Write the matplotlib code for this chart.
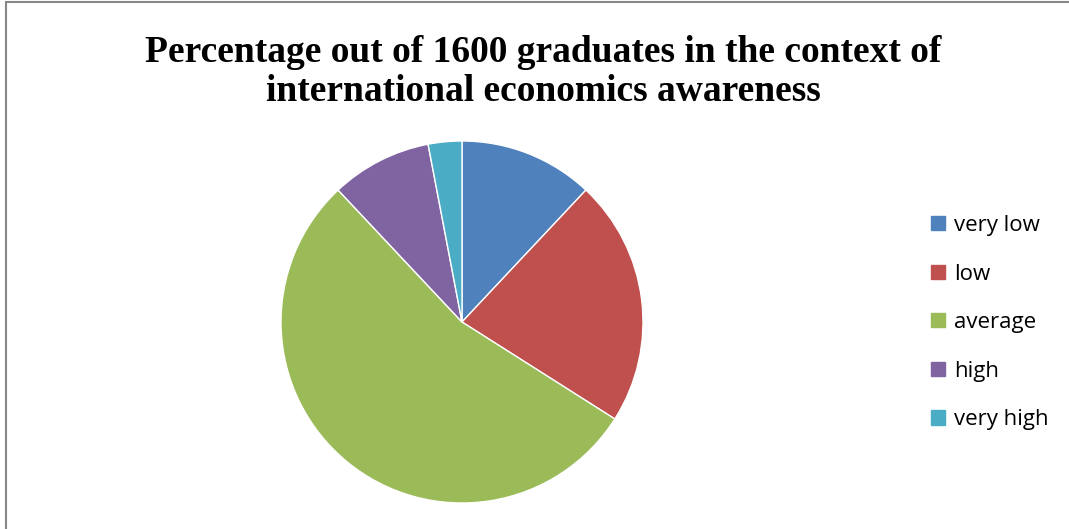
import matplotlib.pyplot as plt
from matplotlib.patches import Rectangle, Patch

# Data
categories = ['very low', 'low', 'average', 'high', 'very high']
values = [12, 22, 54, 9, 3]
colors = ['#4F81BD', '#C0504D', '#9BBB59', '#8064A2', '#4BACC6']

fig = plt.figure(figsize=(10.69, 5.29), dpi=100)

# outer border like the original chart frame
fig.patches.append(Rectangle((6 / 1069, -0.01), 1.1, 1 - 2 / 529 + 0.01, transform=fig.transFigure,
                             fill=False, edgecolor='#888888', linewidth=1.5))

ax = fig.add_axes([281 / 1069, 26 / 529, 362 / 1069, 362 / 529])
ax.pie(values, colors=colors, startangle=90, counterclock=False,
       wedgeprops={'edgecolor': 'white', 'linewidth': 1})
ax.set_xlim(-1, 1)
ax.set_ylim(-1, 1)
ax.set_aspect('equal')

fig.text(543 / 1069, 1 - 72 / 529, 'Percentage out of 1600 graduates in the context of\ninternational economics awareness',
         ha='center', va='center', family='Liberation Serif', fontweight='bold', fontsize=27,
         linespacing=1.14)

handles = [Patch(facecolor=c, edgecolor=c) for c in colors]
fig.legend(handles, categories, loc='upper left', bbox_to_anchor=(911 / 1069, 1 - 195 / 529),
           frameon=False, prop={'family': 'Open Sans', 'size': 16},
           handlelength=0.62, handleheight=0.62, handletextpad=0.4, labelspacing=1.24)

fig.savefig('out.png', dpi=100)
